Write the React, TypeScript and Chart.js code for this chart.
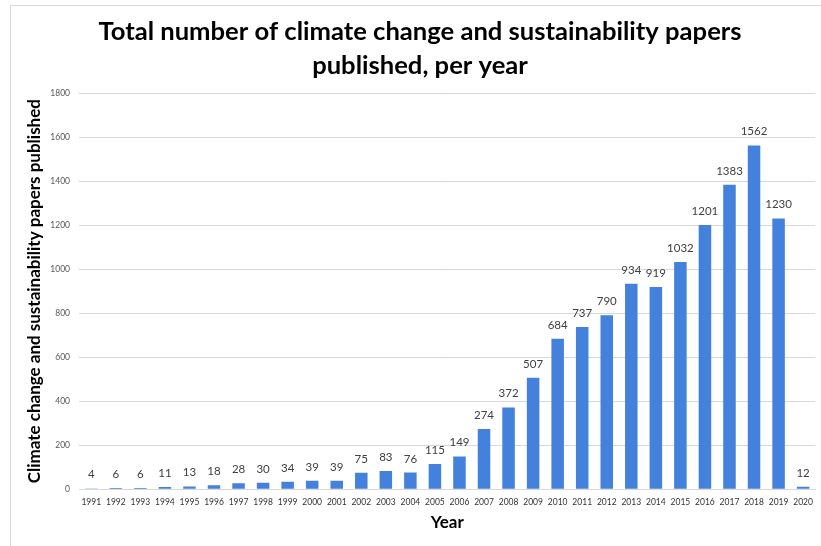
import React, { useEffect, useRef } from "react";
import { Chart, registerables } from "chart.js";

Chart.register(...registerables);

const years = [
  "1991", "1992", "1993", "1994", "1995", "1996", "1997", "1998", "1999", "2000",
  "2001", "2002", "2003", "2004", "2005", "2006", "2007", "2008", "2009", "2010",
  "2011", "2012", "2013", "2014", "2015", "2016", "2017", "2018", "2019", "2020",
];
const papers = [
  4, 6, 6, 11, 13, 18, 28, 30, 34, 39,
  39, 75, 83, 76, 115, 149, 274, 372, 507, 684,
  737, 790, 934, 919, 1032, 1201, 1383, 1562, 1230, 12,
];
const titleLines = [
  "Total number of climate change and sustainability papers",
  "published, per year",
];
const yAxisTitle = "Climate change and sustainability papers published";
const xAxisTitle = "Year";

const FONT = "Lato, 'Open Sans', sans-serif";

// Value labels above each bar, plus chart and axis titles
const annotate = {
  id: "annotate",
  afterDatasetsDraw(chart: any) {
    const { ctx } = chart;
    const meta = chart.getDatasetMeta(0);
    ctx.save();
    ctx.fillStyle = "#404040";
    ctx.font = `11.5px ${FONT}`;
    ctx.textAlign = "center";
    ctx.textBaseline = "bottom";
    meta.data.forEach((bar: any, i: number) => {
      ctx.fillText(String(papers[i]), bar.x, bar.y - 8);
    });
    ctx.restore();
  },
  afterDraw(chart: any) {
    const { ctx, chartArea } = chart;
    ctx.save();
    ctx.fillStyle = "#000";
    ctx.textAlign = "center";
    ctx.textBaseline = "middle";
    ctx.font = `bold 25.6px ${FONT}`;
    ctx.fillText(titleLines[0], 420, 32);
    ctx.fillText(titleLines[1], 420, 66);

    ctx.font = `bold 17px ${FONT}`;
    ctx.fillText(xAxisTitle, (chartArea.left + chartArea.right) / 2, 523);

    ctx.translate(35, (chartArea.top + chartArea.bottom) / 2);
    ctx.rotate(-Math.PI / 2);
    ctx.fillText(yAxisTitle, 0, 0);
    ctx.restore();
  },
};

export default function App() {
  const ref = useRef<HTMLCanvasElement | null>(null);

  useEffect(() => {
    if (!ref.current) return;
    const chart = new Chart(ref.current, {
      type: "bar",
      data: {
        labels: years,
        datasets: [
          {
            data: papers,
            backgroundColor: "#4481DC",
            borderWidth: 0,
            categoryPercentage: 1,
            barPercentage: 0.51,
          },
        ],
      },
      options: {
        animation: false,
        responsive: false,
        layout: { padding: { top: 93, right: 1, bottom: 0, left: 0 } },
        plugins: {
          legend: { display: false },
          title: { display: false },
          tooltip: { enabled: false },
        },
        scales: {
          x: {
            grid: { display: false, drawTicks: false },
            border: { display: true, color: "#d9d9d9" },
            ticks: {
              color: "#333",
              font: { family: FONT, size: 8.5 },
              padding: 8,
              maxRotation: 0,
              autoSkip: false,
            },
            afterFit(scale: any) {
              scale.height = 56.7;
            },
          },
          y: {
            min: 0,
            max: 1800,
            grid: { color: "#d9d9d9", drawTicks: false },
            border: { display: false },
            ticks: {
              stepSize: 200,
              color: "#595959",
              font: { family: FONT, size: 8.5 },
              padding: 9,
              callback: (v: any) => String(v),
            },
            afterFit(scale: any) {
              scale.width = 79;
            },
          },
        },
      },
      plugins: [annotate],
    });
    return () => chart.destroy();
  }, []);

  return (
    <div style={{ position: "fixed", inset: 0, background: "#fff", overflow: "hidden" }}>
      <div
        style={{
          position: "absolute",
          left: 10,
          top: 5,
          width: 840,
          height: 580,
          border: "1px solid #d9d9d9",
        }}
      />
      <canvas
        ref={ref}
        width={821}
        height={546}
        style={{ position: "absolute", left: 0, top: 0, width: 821, height: 546 }}
      />
    </div>
  );
}
